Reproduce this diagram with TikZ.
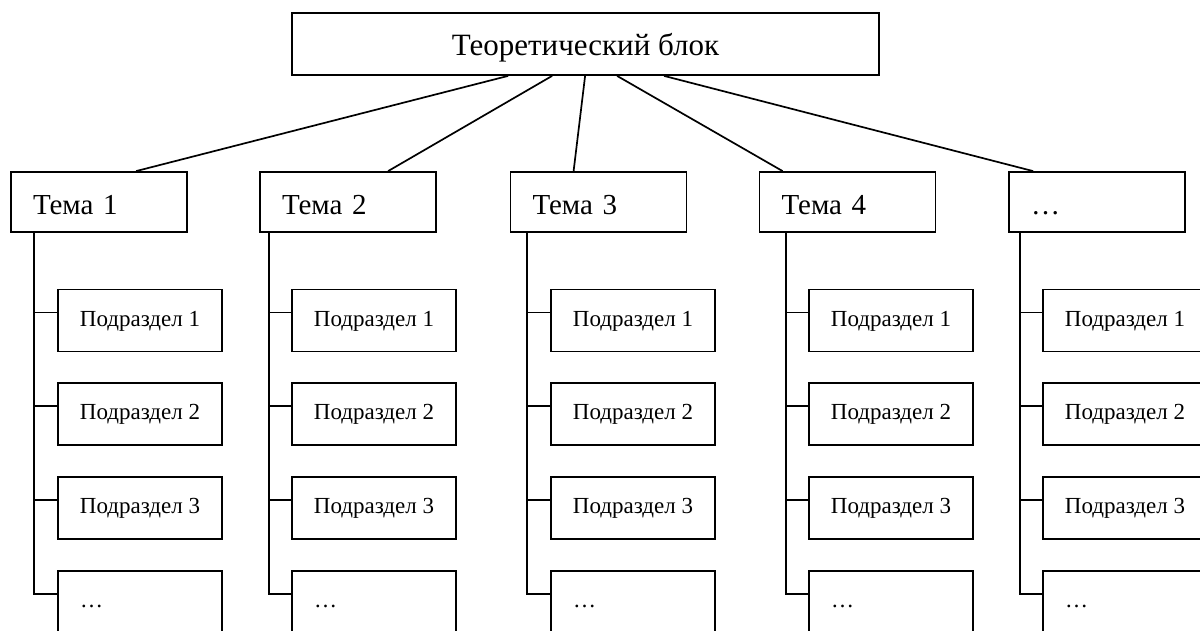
\documentclass[tikz,border=0pt]{standalone}
\usepackage{fontspec}
\setmainfont{Liberation Serif}
\begin{document}
\begin{tikzpicture}[x=1pt,y=-1pt,
  box/.style={draw, line width=1.8pt, rectangle, inner sep=0pt},
  topbox/.style={box, minimum width=587pt, minimum height=62pt,
    font=\fontsize{31}{36}\selectfont, text height=26pt, text depth=4pt},
  temabox/.style={box, minimum width=176pt, minimum height=60pt,
    text width=132pt, inner xsep=22pt, align=left,
    font=\fontsize{29}{34}\selectfont, text height=28pt, text depth=4pt},
  subbox/.style={box, minimum width=164pt, minimum height=62pt, align=center,
    font=\fontsize{23}{27}\selectfont, text height=16pt, text depth=5pt},
  dotbox/.style={subbox, text width=120pt, inner xsep=22pt, align=left},
  link/.style={line width=1.7pt}]
\useasboundingbox (0,0) rectangle (1200,630);
\clip (0,0) rectangle (1200,630);

\node[topbox] (top) at (585.5,44) {Теоретический блок};

\node[temabox] (t1) at (99,202) {Тема 1};
\node[temabox] (t2) at (348,202) {Тема 2};
\node[temabox] (t3) at (598.5,202) {Тема 3};
\node[temabox] (t4) at (847.5,202) {Тема 4};
\node[temabox] (t5) at (1097,202) {…};

\draw[link] ([xshift=217pt]top.south west) -- ([xshift=126pt]t1.north west);
\draw[link] ([xshift=261pt]top.south west) -- ([xshift=129pt]t2.north west);
\draw[link] ([xshift=294pt]top.south west) -- ([xshift=64pt]t3.north west);
\draw[link] ([xshift=326pt]top.south west) -- ([xshift=24pt]t4.north west);
\draw[link] ([xshift=373pt]top.south west) -- ([xshift=25pt]t5.north west);

\foreach \i/\sx/\vx in {1/140/34, 2/374/269, 3/633/527, 4/891/786, 5/1125/1020}{
  \coordinate (v\i) at (\vx,232);
  \node[subbox] (s\i a) at (\sx,320.5) {Подраздел 1};
  \node[subbox] (s\i b) at (\sx,414) {Подраздел 2};
  \node[subbox] (s\i c) at (\sx,508) {Подраздел 3};
  \node[dotbox] (s\i d) at (\sx,602) {…};
  \foreach \r in {a,b,c,d}{
    \draw[link] ([yshift=-24pt]s\i\r.north west) -| (v\i);
  }
}
\end{tikzpicture}
\end{document}
